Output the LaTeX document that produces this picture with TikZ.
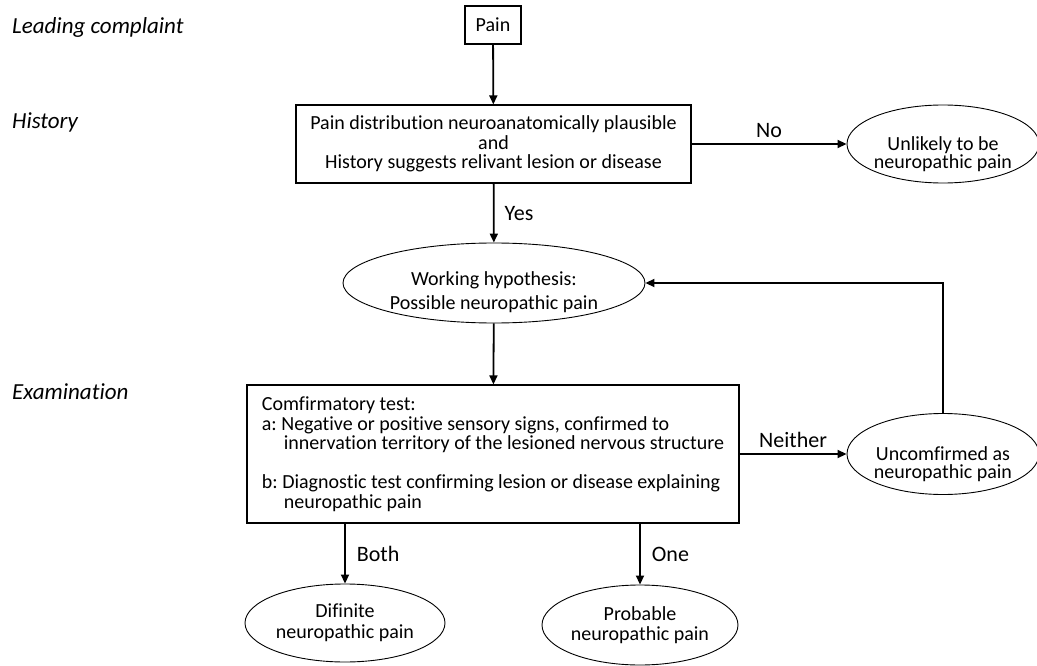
\documentclass[tikz,border=0pt]{standalone}
\usepackage{fontspec}
\setmainfont{Carlito}[Ligatures=CommonOff]
\usetikzlibrary{shapes.geometric,arrows.meta}
\frenchspacing
\begin{document}
\begin{tikzpicture}[x=1pt,y=-1pt,
  box/.style={draw, line width=1.2pt, align=center, inner sep=0pt, font=\fontsize{20}{19.5}\selectfont},
  oval/.style={draw, ellipse, line width=0.9pt, align=center, inner sep=0pt, font=\fontsize{20}{19}\selectfont},
  txt/.style={align=center, inner sep=0pt, font=\fontsize{20}{19}\selectfont},
  conn/.style={line width=1.8pt, -{Triangle[length=9pt,width=8pt]}},
  lbl/.style={inner sep=0pt, font=\fontsize{22}{24}\selectfont},
  stage/.style={anchor=west, inner sep=0pt, font=\fontsize{23}{24}\selectfont\itshape}]
\useasboundingbox (0,0) rectangle (1037,666);

\node[stage] (lc) at (12,27) {Leading complaint};
\node[stage] (hi) at (12,122) {History};
\node[stage] (ex) at (12,392) {Examination};

\node[box, minimum width=56pt, minimum height=38pt] (pain) at (493,25) {Pain};
\node[box, minimum width=395pt, minimum height=78pt] (dist) at (493.5,144)
  {Pain distribution neuroanatomically plausible\\and\\History suggests relivant lesion or disease};

\node[oval, minimum width=192pt, minimum height=78pt] (unl) at (943,144) {};
\node[txt, font=\fontsize{20}{18.5}\selectfont] (unlt) at (943,154) {Unlikely to be\\neuropathic pain};

\node[oval, minimum width=302pt, minimum height=80pt] (work) at (494,283) {};
\node[txt, font=\fontsize{20}{24}\selectfont] (workt) at (494,292) {Working hypothesis:\\Possible neuropathic pain};

\node[box, minimum width=492pt, minimum height=138pt, align=left] (exam) at (493,454)
  {Comfirmatory test:\\
   a: Negative or positive sensory signs, confirmed to\\
   \hspace*{22pt}innervation territory of the lesioned nervous structure\\[19.5pt]
   b: Diagnostic test confirming lesion or disease explaining\\
   \hspace*{22pt}neuropathic pain};

\node[oval, minimum width=192pt, minimum height=81pt] (unc) at (943,454) {};
\node[txt, font=\fontsize{20}{18.5}\selectfont] (unct) at (943,464) {Uncomfirmed as\\neuropathic pain};

\node[oval, minimum width=200pt, minimum height=78pt, font=\fontsize{20}{21}\selectfont] (def) at (345,623) {Difinite\\neuropathic pain};
\node[oval, minimum width=196pt, minimum height=80pt, font=\fontsize{20}{20.5}\selectfont] (prob) at (640,625) {Probable\\neuropathic pain};

\draw[conn] (pain) -- (dist);
\draw[conn] (dist) -- node[lbl, above=5pt]{No} (unl);
\draw[conn] (dist) -- node[lbl, right=10pt]{Yes} (work);
\draw[conn] (work) -- (exam);
\draw[conn] (exam) -- node[lbl, above=5pt]{Neither} (unc);
\draw[conn] (unc.north) |- (work.east);
\draw[conn] (exam.south -| def.north) -- node[lbl, right=11pt]{Both} (def.north);
\draw[conn] (exam.south -| prob.north) -- node[lbl, right=11pt]{One} (prob.north);
\end{tikzpicture}
\end{document}
